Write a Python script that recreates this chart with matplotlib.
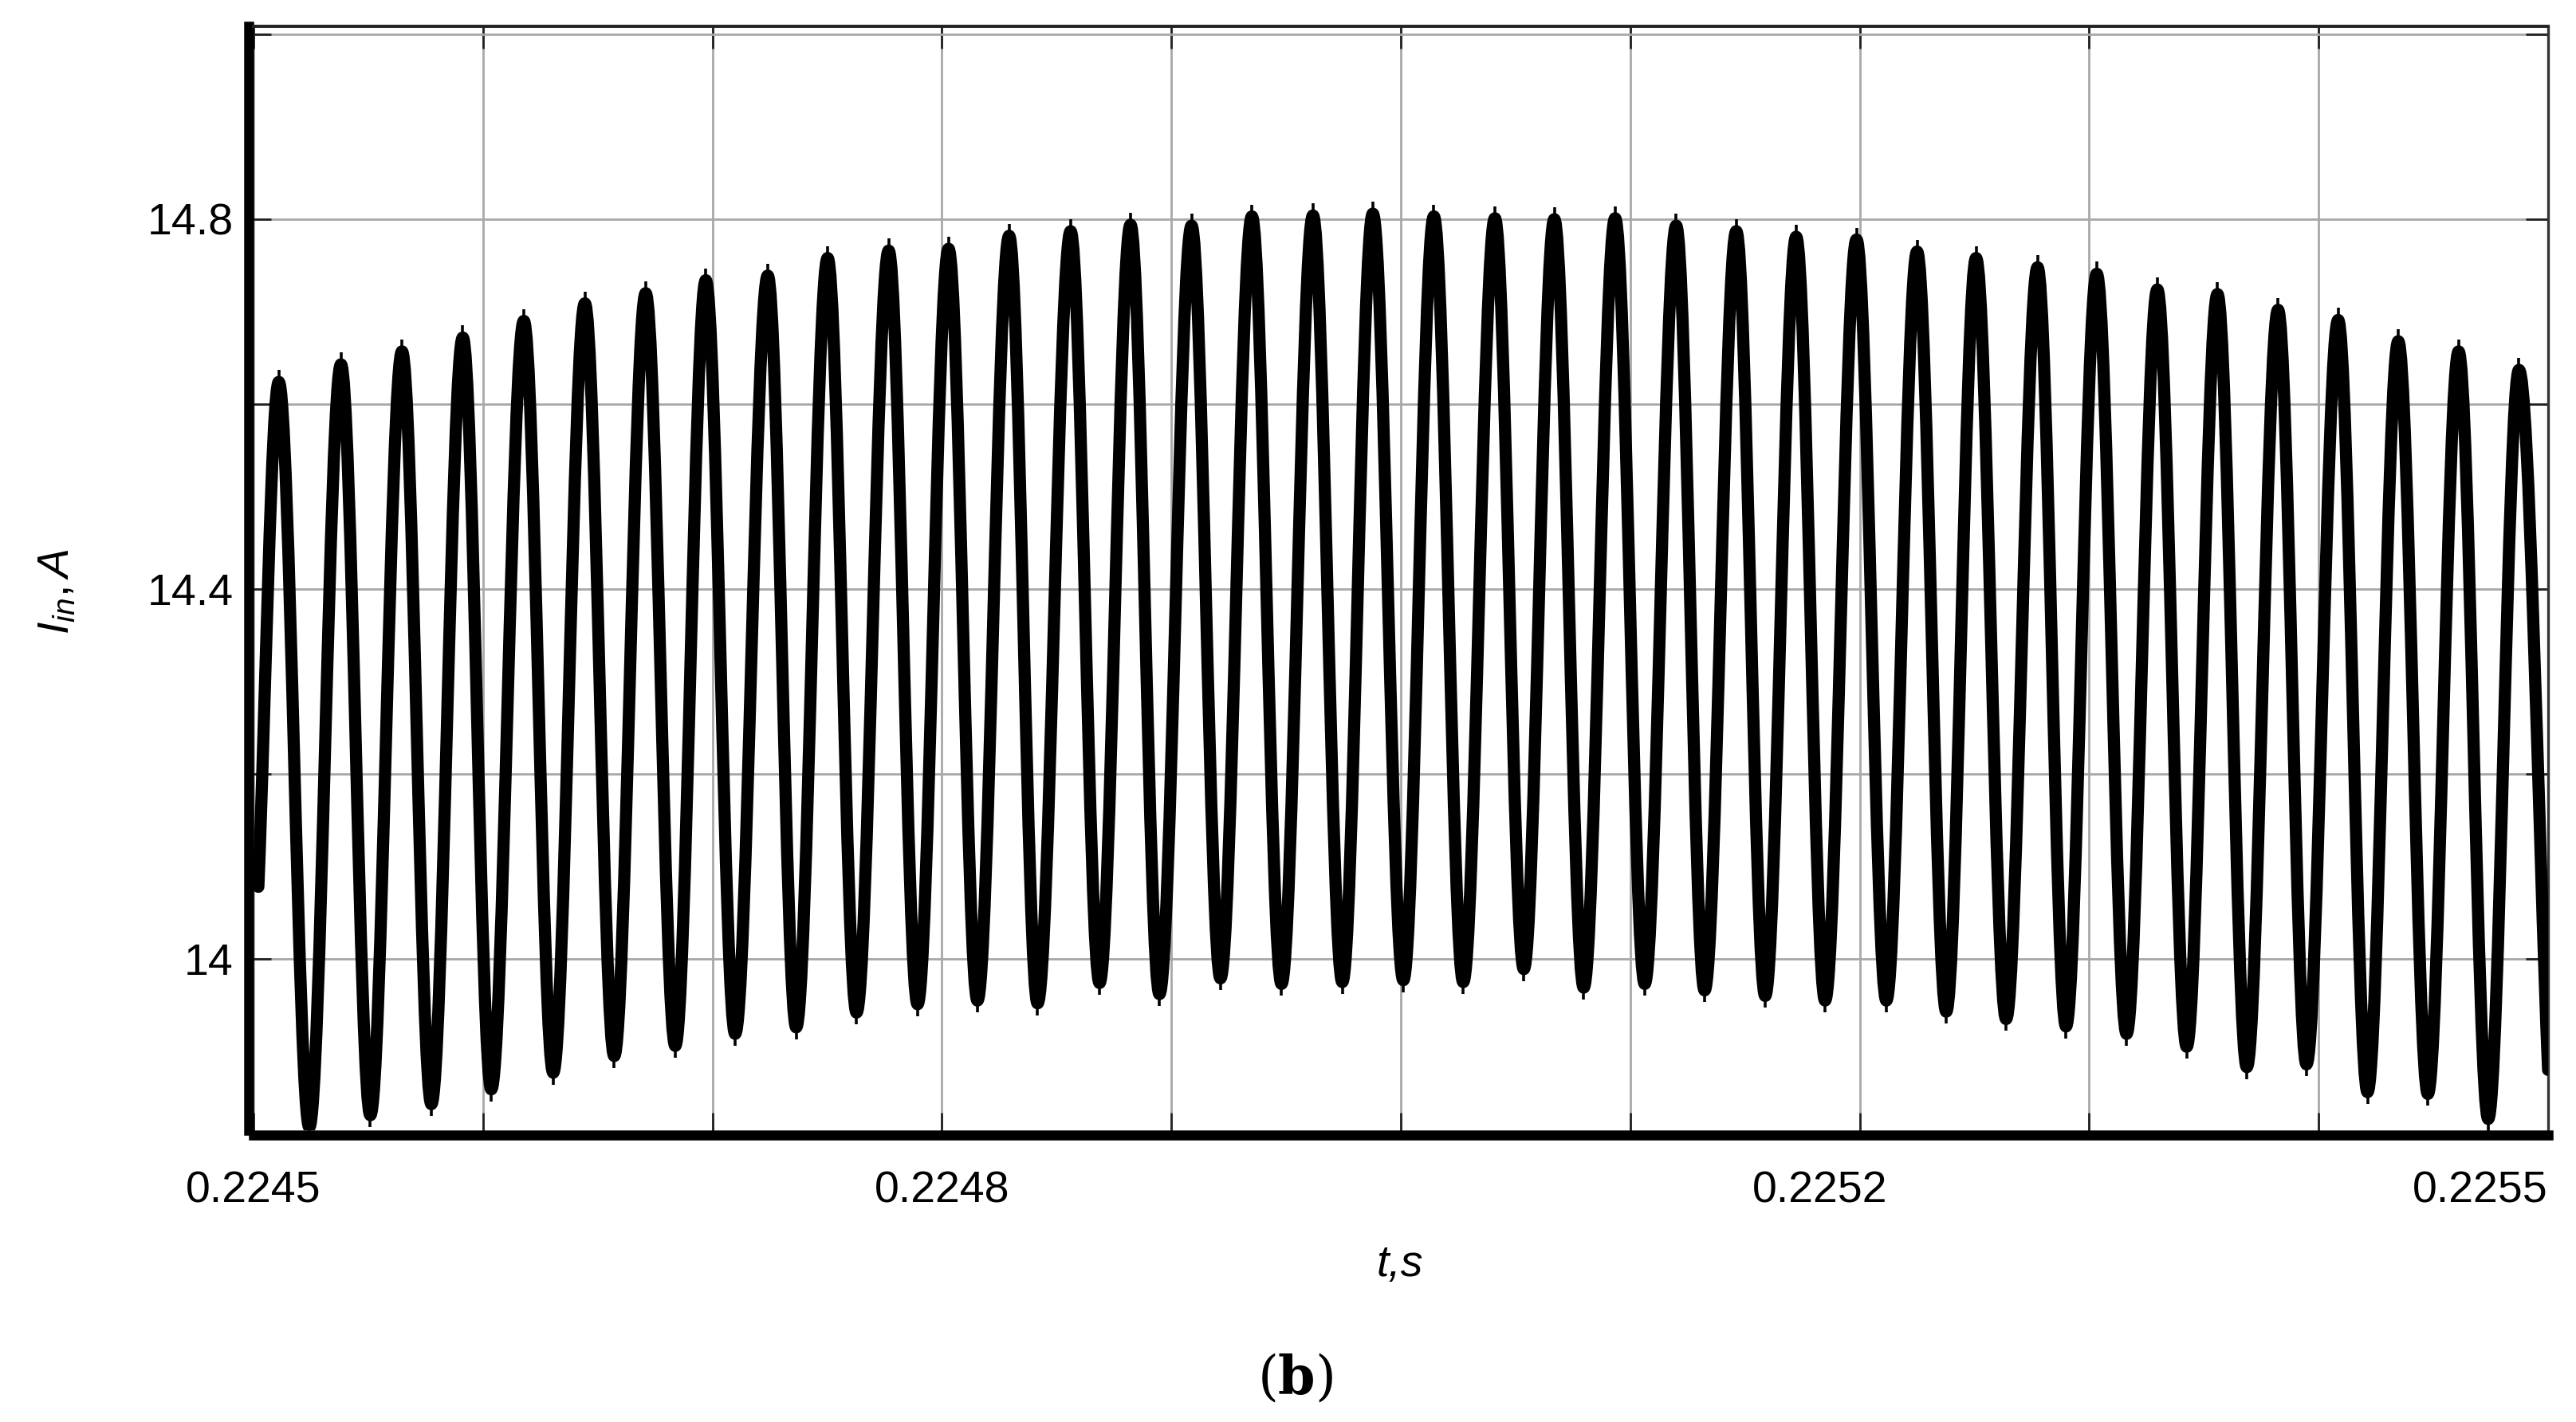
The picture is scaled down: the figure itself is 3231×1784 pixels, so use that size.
import matplotlib
matplotlib.use("Agg")
import matplotlib.pyplot as plt
from matplotlib.ticker import FixedLocator, FixedFormatter
from matplotlib.path import Path
from matplotlib.patches import PathPatch
from matplotlib.transforms import ScaledTranslation
import numpy as np

plt.rcParams['font.family'] = ['Liberation Sans', 'DejaVu Sans']
plt.rcParams['mathtext.fontset'] = 'custom'
plt.rcParams['mathtext.it'] = 'Liberation Sans:italic'
plt.rcParams['mathtext.rm'] = 'Liberation Sans'

# ---- data ----
t_peak = [0.2245110, 0.2245381, 0.2245647, 0.2245912, 0.2246178, 0.2246444, 0.2246709,
          0.2246971, 0.2247241, 0.2247502, 0.2247768, 0.2248029, 0.2248293, 0.2248561,
          0.2248822, 0.2249088, 0.2249351, 0.2249617, 0.2249878, 0.2250144, 0.2250410,
          0.2250669, 0.2250934, 0.2251200, 0.2251462, 0.2251723, 0.2251986, 0.2252250,
          0.2252507, 0.2252775, 0.2253033, 0.2253297, 0.2253559, 0.2253823, 0.2254085,
          0.2254347, 0.2254610, 0.2254873]
i_peak = [14.624, 14.643, 14.657, 14.672, 14.690, 14.709, 14.720, 14.734, 14.739, 14.758,
          14.766, 14.768, 14.782, 14.787, 14.794, 14.793, 14.803, 14.804, 14.806, 14.803,
          14.801, 14.800, 14.801, 14.793, 14.787, 14.781, 14.778, 14.765, 14.758, 14.748,
          14.741, 14.724, 14.719, 14.702, 14.691, 14.668, 14.657, 14.637]
t_trough = [0.2245243, 0.2245509, 0.2245775, 0.2246036, 0.2246306, 0.2246572, 0.2246838,
            0.2247099, 0.2247365, 0.2247628, 0.2247894, 0.2248155, 0.2248417, 0.2248687,
            0.2248948, 0.2249214, 0.2249480, 0.2249745, 0.2250011, 0.2250272, 0.2250536,
            0.2250797, 0.2251063, 0.2251324, 0.2251588, 0.2251849, 0.2252116, 0.2252377,
            0.2252638, 0.2252899, 0.2253163, 0.2253425, 0.2253687, 0.2253947, 0.2254213,
            0.2254476, 0.2254739]
i_trough = [13.818, 13.831, 13.843, 13.859, 13.877, 13.895, 13.906, 13.919, 13.926, 13.942,
            13.951, 13.955, 13.952, 13.974, 13.962, 13.979, 13.973, 13.975, 13.977, 13.975,
            13.989, 13.969, 13.973, 13.966, 13.960, 13.955, 13.955, 13.943, 13.935, 13.927,
            13.919, 13.905, 13.883, 13.886, 13.856, 13.854, 13.827]
t_start, i_start = 0.2245021, 14.078
t_end, i_end = 0.2255000, 13.880

x_ticks = [0.2245, 0.2246, 0.2247, 0.2248, 0.2249, 0.2250, 0.2251, 0.2252, 0.2253, 0.2254, 0.2255]
x_labels = ['0.2245', '', '', '0.2248', '', '', '', '0.2252', '', '', '0.2255']
y_ticks = [14.0, 14.2, 14.4, 14.6, 14.8, 15.0]
y_labels = ['14', '', '14.4', '', '14.8', '']

# ---- alternate peaks / troughs into one sequence of extrema ----
n = len(t_peak) + len(t_trough)
t_ext = np.empty(n)
i_ext = np.empty(n)
t_ext[0::2] = t_peak
t_ext[1::2] = t_trough
i_ext[0::2] = i_peak
i_ext[1::2] = i_trough

# smooth curve through the extrema (horizontal tangent at each extremum)
K = 0.35
verts = [(t_start, i_start)]
codes = [Path.MOVETO]
dt = t_ext[0] - t_start
verts += [(t_start + dt / 3, i_start + (i_ext[0] - i_start) / 3),
          (t_ext[0] - K * dt, i_ext[0]), (t_ext[0], i_ext[0])]
codes += [Path.CURVE4] * 3
for k in range(1, n):
    t0, i0, t1, i1 = t_ext[k - 1], i_ext[k - 1], t_ext[k], i_ext[k]
    dt = t1 - t0
    verts += [(t0 + K * dt, i0), (t1 - K * dt, i1), (t1, i1)]
    codes += [Path.CURVE4] * 3
t0, i0 = t_ext[-1], i_ext[-1]
dt = t_end - t0
verts += [(t0 + K * dt, i0), (t_end - dt / 3, i_end + (i0 - i_end) / 3), (t_end, i_end)]
codes += [Path.CURVE4] * 3
wave_path = Path(verts, codes)

W, H, DPI = 3231, 1784, 200
fig = plt.figure(figsize=(W / DPI, H / DPI), dpi=DPI)
ax = fig.add_axes([318 / W, 1 - 1418 / H, (3196 - 318) / W, (1418 - 33) / H])

ax.add_patch(PathPatch(wave_path, fill=False, edgecolor='black', lw=5.5,
                       joinstyle='round', capstyle='round', zorder=3))
ax.plot(t_peak, i_peak, ls='none', marker='|', ms=11, mew=1.3, color='black', zorder=3)
ax.plot(t_trough, i_trough, ls='none', marker='|', ms=11, mew=1.3, color='black', zorder=3)

ax.set_xlim(0.2245, 0.2255)
ax.set_ylim(13.8147, 15.0086)

ax.xaxis.set_major_locator(FixedLocator(x_ticks))
ax.xaxis.set_major_formatter(FixedFormatter(x_labels))
ax.yaxis.set_major_locator(FixedLocator(y_ticks))
ax.yaxis.set_major_formatter(FixedFormatter(y_labels))

ax.grid(True, color='#a8a8a8', lw=1.0, zorder=1)
ax.set_axisbelow(True)

ax.tick_params(axis='both', which='major', direction='in', length=10, width=1.0,
               color='#222222', top=True, right=True, labelsize=20)
ax.tick_params(axis='x', pad=16)
ax.tick_params(axis='y', pad=7)

for name in ['left', 'bottom']:
    sp = ax.spines[name]
    sp.set_linewidth(4.5)
    sp.set_color('black')
    sp.set_position(('outward', 2.2))
    sp.set_capstyle('projecting')
ax.spines['top'].set_linewidth(1.4)
ax.spines['top'].set_color('#222222')
ax.spines['right'].set_linewidth(1.2)
ax.spines['right'].set_color('#333333')

fig.canvas.draw()
for lab in ax.get_xticklabels():
    if lab.get_text() == '0.2255':
        lab.set_horizontalalignment('right')
    elif lab.get_text() == '0.2252':
        lab.set_transform(lab.get_transform() +
                          ScaledTranslation(-50 / DPI, 0, fig.dpi_scale_trans))

fig.text(1756 / W, 1 - 1587 / H, 't,s', fontsize=20, style='italic',
         ha='center', va='center')
fig.text(72 / W, 1 - 742 / H, r'$I_{in},A$', fontsize=20, rotation=90,
         ha='center', va='center')
fig.text(1625 / W, 1 - 1730 / H, r'($\mathbf{b}$)', fontsize=24,
         family='DejaVu Serif', math_fontfamily='dejavuserif',
         ha='center', va='center')

fig.savefig('out.png', dpi=DPI)
